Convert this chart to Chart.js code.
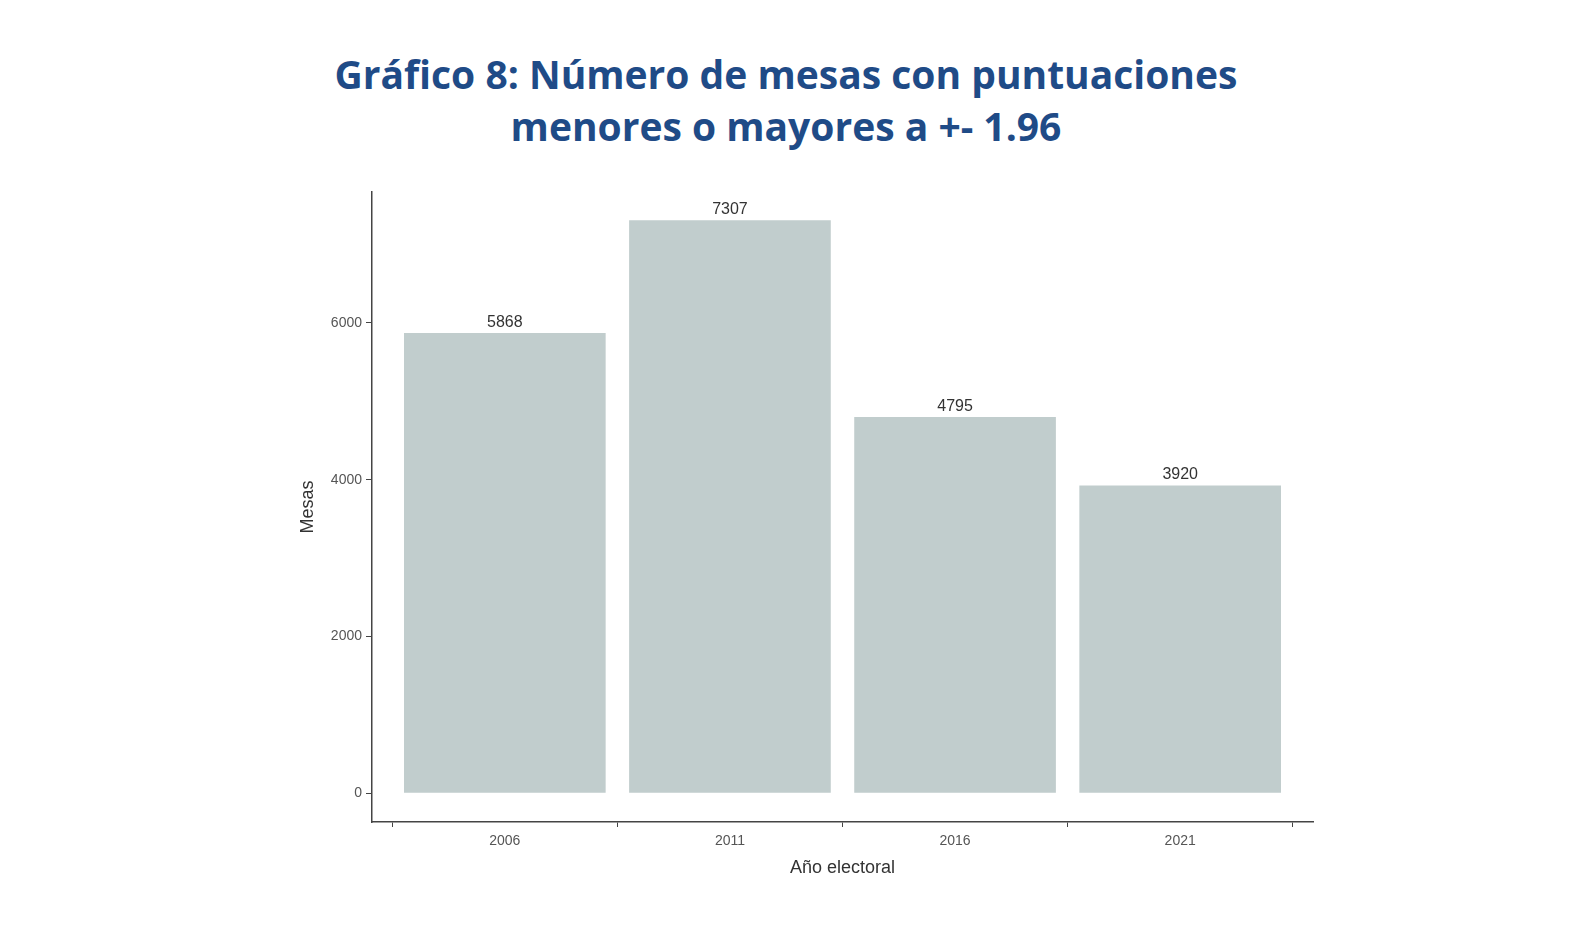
<!DOCTYPE html>
<html><head><meta charset="utf-8">
<script src="https://cdn.jsdelivr.net/npm/chart.js@4/dist/chart.umd.min.js"></script>
<style>
html,body{margin:0;padding:0;background:#fff;width:1582px;height:950px;overflow:hidden}
#t{position:absolute;left:7px;top:48px;width:1558px;text-align:center;font-family:"Open Sans",sans-serif;font-weight:700;font-size:39px;line-height:52px;color:#1f4b87}
#w{position:absolute;left:0;top:0;width:1582px;height:950px}
</style></head><body>
<div id="t">Gráfico 8: Número de mesas con puntuaciones<br>menores o mayores a +- 1.96</div>
<div id="w"><canvas id="c" width="1582" height="950"></canvas></div>
<script>
const categories=["2006","2011","2016","2021"];
const values=[5868,7307,4795,3920];
const yTicks=[0,2000,4000,6000];
const FONT='"Liberation Sans", Arial';
const labelPlugin={id:'lbl',afterDatasetsDraw(ch){const c=ch.ctx;const m=ch.getDatasetMeta(0);const a=ch.chartArea;c.save();
c.font='16px '+FONT;c.fillStyle='#333';c.textAlign='center';c.textBaseline='bottom';
m.data.forEach((b,i)=>{c.fillText(String(values[i]),b.x,b.y-3);});
c.font='18px '+FONT;c.textBaseline='middle';
c.fillText('Año electoral',(a.left+a.right)/2,a.bottom+46);
c.translate(a.left-64,(a.top+a.bottom)/2);c.rotate(-Math.PI/2);c.fillText('Mesas',0,0);
c.restore();}};
new Chart(document.getElementById('c'),{
type:'bar',
data:{labels:categories,datasets:[{data:values,backgroundColor:'#c1cdcd',barThickness:201}]},
options:{responsive:false,animation:false,
layout:{padding:{top:192,right:269,left:0,bottom:0}},
plugins:{legend:{display:false},tooltip:{enabled:false}},
scales:{
x:{type:'category',offset:false,afterFit(s){s.height=128;},afterUpdate(s){s._startValue=-0.59;s._valueRange=4.18;},
ticks:{color:'#555',font:{size:14,family:FONT},padding:6,maxRotation:0,autoSkip:false},
grid:{drawOnChartArea:false,tickLength:5,color:'#444'},border:{color:'#444',width:1.5}},
y:{min:-370,max:7672,afterBuildTicks(s){s.ticks=yTicks.map(v=>({value:v}));},afterFit(s){s.width=372;},
ticks:{color:'#555',font:{size:14,family:FONT},padding:4,callback:v=>String(v)},
grid:{drawOnChartArea:false,tickLength:6,color:'#444'},border:{color:'#444',width:1.5}}
}},
plugins:[labelPlugin]});
</script></body></html>
